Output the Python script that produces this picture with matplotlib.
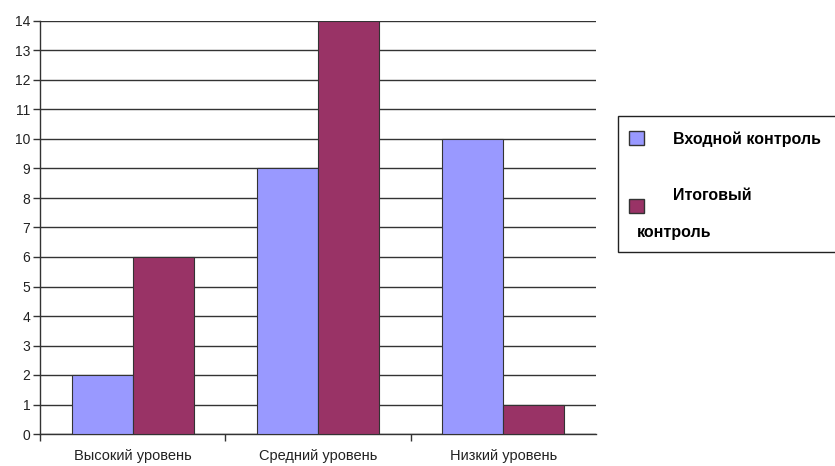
import numpy as np
import matplotlib.pyplot as plt
from matplotlib.patches import Rectangle

plt.rcParams['font.family'] = ['Liberation Sans', 'DejaVu Sans']

categories = ['Высокий уровень', 'Средний уровень', 'Низкий уровень']
entry = [2, 9, 10]
final = [6, 14, 1]
series_names = ['Входной контроль', 'Итоговый', 'контроль']
c_entry = '#9999FF'
c_final = '#993366'

W, H = 835, 466
fig = plt.figure(figsize=(W / 100, H / 100), dpi=100)
ax = fig.add_axes([40 / W, 32 / H, 556 / W, 413 / H])

x = np.arange(len(categories))
bw = 0.33
ax.bar(x + 0.5 - bw / 2, entry, bw, color=c_entry, edgecolor='#333333', linewidth=0.8, zorder=3)
ax.bar(x + 0.5 + bw / 2, final, bw, color=c_final, edgecolor='#333333', linewidth=0.8, zorder=3)

ax.set_xlim(0, 3)
ax.set_ylim(0, 14)
ax.set_yticks(range(15))
ax.set_xticks([0, 1, 2])
ax.set_xticklabels([])
ax.set_xticks(x + 0.5, minor=True)
ax.set_xticklabels(categories, minor=True, fontsize=10.5, color='#222222')
ax.tick_params(axis='x', which='minor', length=0, pad=11)
ax.tick_params(axis='x', which='major', length=5, width=1, color='#333333')
ax.tick_params(axis='y', length=5, width=1, color='#333333', labelsize=10, labelcolor='#222222', pad=2)
ax.yaxis.grid(True, color='#333333', linewidth=1)
ax.set_axisbelow(True)
for s in ['top', 'right']:
    ax.spines[s].set_visible(False)
for s in ['left', 'bottom']:
    ax.spines[s].set_color('#333333')
    ax.spines[s].set_linewidth(1)

# legend box, partly cut off at the right edge
fig.patches.append(Rectangle((618 / W, 1 - 252 / H), 230 / W, 136 / H, transform=fig.transFigure,
                             facecolor='white', edgecolor='#222222', linewidth=1))
fig.patches.append(Rectangle((629 / W, 1 - 145 / H), 15 / W, 14 / H, transform=fig.transFigure,
                             facecolor=c_entry, edgecolor='#333333', linewidth=1))
fig.patches.append(Rectangle((629 / W, 1 - 213 / H), 15 / W, 14 / H, transform=fig.transFigure,
                             facecolor=c_final, edgecolor='#333333', linewidth=1))
fig.text(673 / W, 1 - 139 / H, series_names[0], fontsize=11.5, fontweight='bold', va='center')
fig.text(673 / W, 1 - 195 / H, series_names[1], fontsize=11.5, fontweight='bold', va='center')
fig.text(637 / W, 1 - 233 / H, series_names[2], fontsize=11.5, fontweight='bold', va='center')

fig.savefig('out.png', dpi=100)
